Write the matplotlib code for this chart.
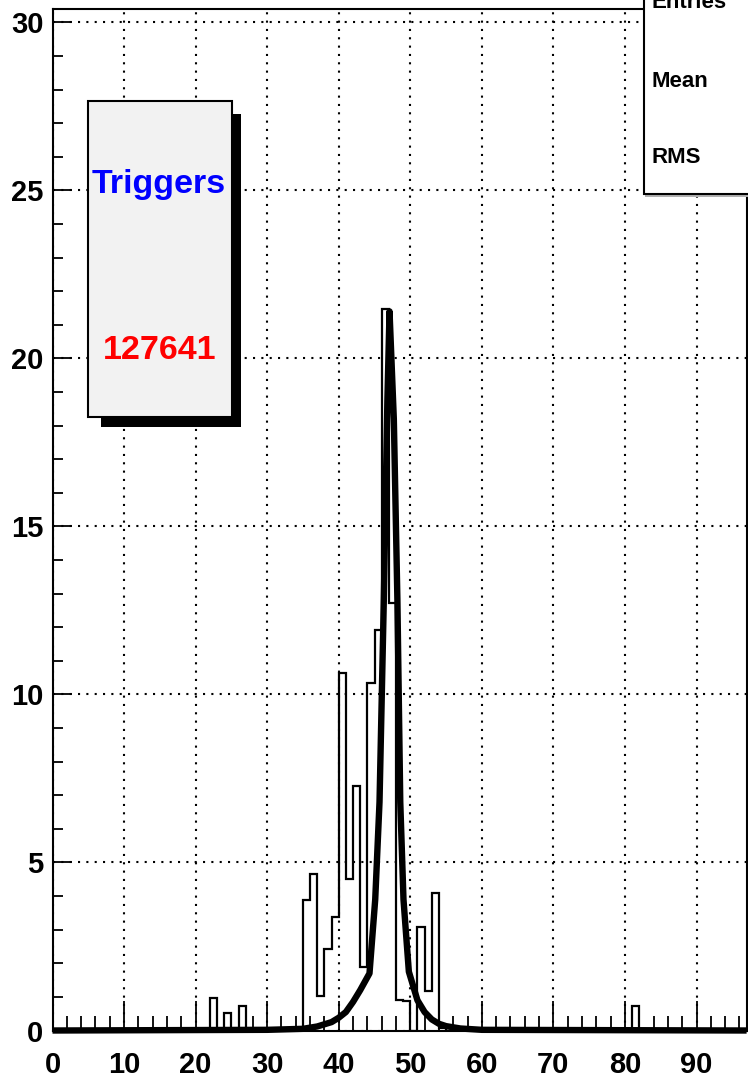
import numpy as np
import matplotlib
matplotlib.use("Agg")
import matplotlib.pyplot as plt
from matplotlib.patches import Rectangle
from matplotlib.ticker import MultipleLocator

plt.rcParams['font.family'] = ['Liberation Sans', 'DejaVu Sans']

# ---- data ----
bin_lo = [22, 24, 26, 35, 36, 37, 38, 39, 40, 41, 42, 43, 44, 45, 46, 47,
          48, 49, 51, 52, 53, 54, 81]
bin_val = [0.97, 0.53, 0.73, 3.87, 4.65, 1.02, 2.43, 3.39, 10.65, 4.50, 7.29,
           1.90, 10.35, 11.93, 21.48, 12.72, 0.92, 0.87, 3.07, 1.17, 4.10,
           0.08, 0.73]
n_bins = 97
x_min, x_max = 0, 97

fit_x = [0, 30, 35, 37, 39, 40, 41, 42, 43, 44.3, 45.1, 45.7, 46.3, 46.8,
         47.1, 47.7, 48.2, 48.6, 49.05, 49.8, 51.0, 52.0, 53.0, 54.0, 55.0,
         57.0, 60.0, 97]
fit_y = [0.0, 0.02, 0.05, 0.12, 0.25, 0.38, 0.55, 0.85, 1.2, 1.7, 3.9, 6.8,
         12.8, 18.75, 21.4, 18.2, 12.8, 6.8, 3.9, 1.75, 0.9, 0.55, 0.33, 0.2,
         0.13, 0.06, 0.02, 0.0]

stat_labels = ["Entries", "Mean", "RMS"]
trigger_title = "Triggers"
trigger_count = "127641"

# ---- figure ----
W, H = 748, 1084
fig = plt.figure(figsize=(W / 100, H / 100), dpi=100)
ax_left, ax_right, ax_top, ax_bot = 52.5, 746.6, 9.0, 1030.5
ax = fig.add_axes([ax_left / W, (H - ax_bot) / H,
                   (ax_right - ax_left) / W, (ax_bot - ax_top) / H])

edges = np.arange(x_min, x_min + n_bins + 1, 1.0)
counts = np.zeros(n_bins)
for lo, v in zip(bin_lo, bin_val):
    counts[int(lo - x_min)] = v

ax.stairs(counts, edges, color='black', lw=1.6, baseline=0, zorder=3)
ax.plot(fit_x, fit_y, color='black', lw=4.6, clip_on=False, zorder=4,
        solid_capstyle='butt')

ax.set_xlim(x_min, x_max)
ax.set_ylim(0, 30.4)

ax.xaxis.set_major_locator(MultipleLocator(10))
ax.xaxis.set_minor_locator(MultipleLocator(2))
ax.yaxis.set_major_locator(MultipleLocator(5))
ax.yaxis.set_minor_locator(MultipleLocator(1))

ax.tick_params(axis='x', which='major', direction='in', length=21.5,
               width=1.3, pad=14.5, labelsize=21)
ax.tick_params(axis='x', which='minor', direction='in', length=10.8,
               width=1.3)
ax.tick_params(axis='y', which='major', direction='in', length=13.5,
               width=1.3, pad=6.5, labelsize=21)
ax.tick_params(axis='y', which='minor', direction='in', length=7.5,
               width=1.3)
for lab in ax.get_xticklabels() + ax.get_yticklabels():
    lab.set_fontweight('bold')

ax.grid(True, which='major', color='black', linestyle=(0, (1, 3)),
        linewidth=1.5, zorder=1)
ax.set_axisbelow(True)

for s in ax.spines.values():
    s.set_linewidth(1.5)

# ---- stats box (top right, partially out of view) ----
def fx(px):
    return px / W

def fy(py):
    return 1 - py / H

fig.add_artist(Rectangle((fx(645), fy(196.5)), fx(760) - fx(645),
                         fy(-20) - fy(196.5), transform=fig.transFigure,
                         facecolor='#b0b0b0', edgecolor='none', zorder=9))
fig.add_artist(Rectangle((fx(643.5), fy(193.5)), fx(760) - fx(643.5),
                         fy(-20) - fy(193.5), transform=fig.transFigure,
                         facecolor='white', edgecolor='black', lw=1.5,
                         zorder=10))
for lab, base in zip(stat_labels, [8.0, 87.0, 163.0]):
    fig.text(fx(651.5), fy(base), lab, fontsize=16, fontweight='bold',
             ha='left', va='baseline', zorder=11)

# ---- Triggers box ----
fig.add_artist(Rectangle((fx(101), fy(427)), fx(241) - fx(101),
                         fy(114) - fy(427), transform=fig.transFigure,
                         facecolor='black', edgecolor='none', zorder=9))
fig.add_artist(Rectangle((fx(87.5), fy(417)), fx(231.5) - fx(87.5),
                         fy(100.5) - fy(417), transform=fig.transFigure,
                         facecolor='#f2f2f2', edgecolor='black', lw=1.5,
                         zorder=10))
fig.text(fx(158.5), fy(192.5), trigger_title, color='blue', fontsize=24.5,
         fontweight='bold', ha='center', va='baseline', zorder=11)
fig.text(fx(159.5), fy(359), trigger_count, color='red', fontsize=24.5,
         fontweight='bold', ha='center', va='baseline', zorder=11)

fig.savefig("out.png", dpi=100)
